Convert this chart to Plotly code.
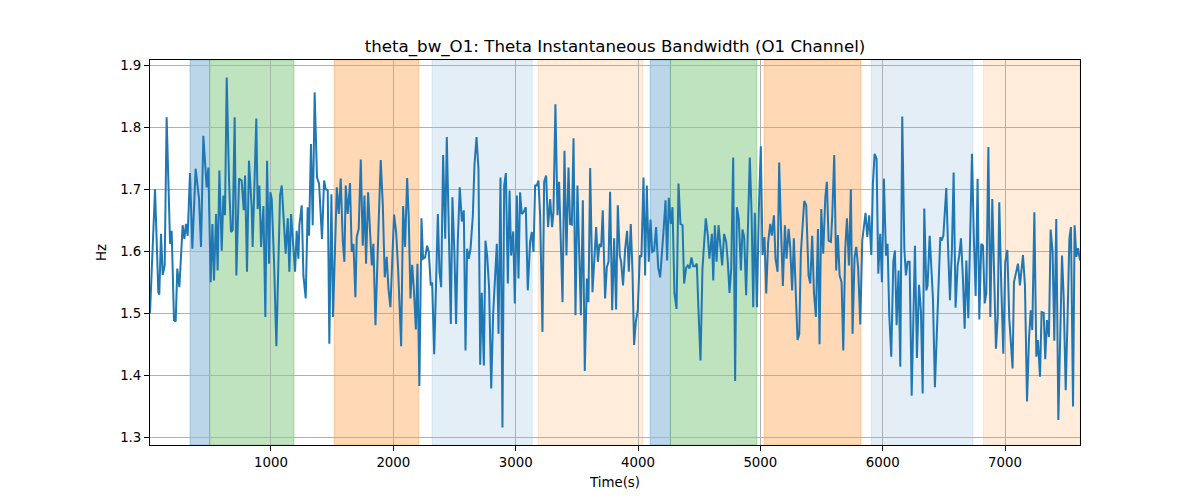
import plotly.graph_objects as go

# ---- data ----
times = [
    11, 52, 79, 87, 101, 115, 131, 147, 175, 188, 207, 221, 234, 251, 278, 292, 305, 319, 338, 357,
    384, 412, 428, 447, 474, 488, 507, 521, 534, 551, 564, 578, 597, 611, 624, 638, 657, 673, 687, 703, 717,
    739, 760, 777, 788, 804, 820, 842, 850, 864, 880, 891, 905, 919, 938, 954, 968, 984, 995, 1006, 1025,
    1044, 1060, 1074, 1088, 1104, 1120, 1137, 1150, 1164, 1180, 1197, 1210, 1224, 1232, 1251, 1265, 1284,
    1300, 1311, 1327, 1341, 1357, 1376, 1393, 1417, 1434, 1447, 1464, 1477, 1494, 1507,
    1538, 1554, 1570, 1587, 1600, 1611, 1627, 1646, 1660, 1674, 1690, 1701, 1717, 1734, 1750, 1764, 1777,
    1794, 1810, 1824, 1837, 1854, 1881, 1897, 1914, 1930, 1946, 1960, 1976, 2006, 2023, 2039, 2064, 2080,
    2096, 2113, 2126, 2140, 2154, 2167, 2184, 2197, 2213, 2230, 2243,
    2260, 2276, 2290, 2306, 2317, 2334, 2364, 2377, 2391, 2407, 2424, 2437, 2451, 2470, 2483, 2500, 2513,
    2527, 2543, 2560, 2576, 2590, 2603, 2617, 2631, 2650, 2663, 2680, 2696, 2710, 2723, 2740, 2753, 2767,
    2783, 2800, 2816, 2832, 2846, 2860, 2876, 2892, 2906, 2920, 2936, 2950, 2963, 2980, 2993, 3010, 3023,
    3036, 3050, 3064, 3083, 3099, 3118, 3132, 3146, 3159, 3173, 3186, 3200, 3219, 3233, 3249, 3265, 3282,
    3298, 3309, 3325, 3342, 3355, 3383, 3399, 3415, 3432, 3445, 3459, 3473, 3489, 3505, 3533, 3549, 3565,
    3582, 3595, 3609, 3628, 3642, 3658, 3672, 3685, 3699, 3712, 3731, 3745, 3759, 3772, 3789, 3805, 3821,
    3835, 3851, 3862, 3878, 3895, 3911, 3925, 3941, 3955, 3968, 3982, 3998, 4015, 4028, 4045, 4058, 4072,
    4088, 4102, 4116, 4132, 4148, 4165, 4181, 4195, 4208, 4225, 4238, 4252, 4268, 4282, 4298, 4315, 4331,
    4347, 4364, 4377, 4394, 4407, 4421, 4437, 4451, 4467, 4481, 4494, 4511, 4527, 4554, 4571, 4584,
    4604, 4615, 4628, 4642, 4658, 4672, 4688, 4704, 4721, 4734, 4748, 4762, 4778, 4794, 4808, 4824, 4841,
    4854, 4868, 4884, 4901, 4914, 4928, 4942, 4955, 4972, 4988, 5004, 5018, 5034, 5048, 5064, 5081, 5094,
    5111, 5124, 5141, 5154, 5168, 5184, 5201, 5214, 5231, 5244, 5260, 5274, 5290, 5304, 5318, 5331, 5345,
    5359, 5375,
    5394, 5408, 5424, 5438, 5454, 5471, 5484, 5498, 5514, 5531, 5544, 5558, 5577, 5588, 5604, 5620, 5634,
    5648, 5664, 5678, 5694, 5708, 5724, 5740, 5754, 5770, 5784, 5800, 5817, 5833, 5847, 5860, 5874, 5890,
    5907, 5920, 5934, 5950, 5964, 5980, 5994, 6010, 6027, 6040, 6054, 6070, 6087, 6100, 6114, 6130,
    6144, 6160, 6177, 6190, 6204, 6220, 6237, 6264, 6280, 6297, 6313, 6327, 6340, 6357, 6367, 6384, 6411,
    6427, 6471, 6482, 6496, 6520, 6534, 6550, 6566, 6580, 6596, 6613, 6626, 6640, 6656, 6670, 6684, 6700,
    6716, 6730, 6746, 6760, 6776, 6790, 6806, 6820, 6834, 6847, 6864, 6880, 6896, 6913, 6926, 6940,
    6953, 6970, 6986, 7002, 7019, 7035, 7049, 7062, 7073, 7090, 7106, 7122, 7133, 7147, 7163, 7180, 7196,
    7210, 7223, 7240, 7256, 7269, 7286, 7299, 7316, 7329, 7343, 7359, 7373, 7389, 7403, 7419, 7436, 7452,
    7466, 7479, 7496, 7512, 7526, 7539, 7556, 7569, 7583, 7597, 7613,
]

bandwidth_hz = [
    1.50, 1.70, 1.534, 1.530, 1.628, 1.562, 1.577, 1.816, 1.612, 1.633, 1.489, 1.487, 1.572, 1.542, 1.642,
    1.620, 1.644, 1.625, 1.726, 1.604, 1.733, 1.684, 1.607, 1.786, 1.703, 1.735, 1.550, 1.644, 1.553, 1.660,
    1.569, 1.730, 1.601, 1.690, 1.658, 1.880, 1.714, 1.631, 1.634, 1.816, 1.561,
    1.717, 1.714, 1.666, 1.722, 1.567, 1.746, 1.671, 1.607, 1.714, 1.814, 1.668, 1.706, 1.607, 1.673, 1.494,
    1.746, 1.580, 1.695, 1.684, 1.583, 1.447, 1.599, 1.690, 1.706, 1.647, 1.596, 1.653, 1.567, 1.660, 1.614,
    1.567, 1.633, 1.588, 1.642, 1.674, 1.561, 1.524, 1.671, 1.625, 1.773, 1.642, 1.856, 1.719, 1.709, 1.620,
    1.714, 1.700, 1.698, 1.451, 1.692, 1.494,
    1.703, 1.660, 1.717, 1.615, 1.583, 1.706, 1.660, 1.710, 1.599, 1.612, 1.526, 1.623, 1.636, 1.748, 1.609,
    1.690, 1.580, 1.695, 1.631, 1.577, 1.612, 1.481, 1.652, 1.747, 1.674, 1.558, 1.591, 1.540, 1.510, 1.659,
    1.631, 1.572, 1.447, 1.673, 1.607, 1.718, 1.655, 1.524, 1.578, 1.542, 1.474, 1.580, 1.383, 1.653, 1.588,
    1.590, 1.609, 1.599, 1.545, 1.550, 1.434, 1.660, 1.567, 1.542, 1.755, 1.620, 1.784, 1.671, 1.483, 1.687,
    1.593, 1.483, 1.617, 1.703, 1.648, 1.666, 1.440, 1.604, 1.588, 1.604, 1.658, 1.738, 1.784, 1.733, 1.417,
    1.533, 1.416, 1.617, 1.593, 1.540, 1.379, 1.499, 1.574, 1.612, 1.467, 1.719, 1.316, 1.706, 1.726, 1.548,
    1.698, 1.593, 1.632, 1.516, 1.690, 1.556,
    1.695, 1.660, 1.663, 1.671, 1.537, 1.615, 1.631, 1.599, 1.706, 1.706, 1.714, 1.658, 1.470, 1.712, 1.722,
    1.639, 1.684, 1.639, 1.663, 1.837, 1.658, 1.712, 1.518, 1.762, 1.593, 1.735, 1.644, 1.643, 1.782, 1.497,
    1.706, 1.497, 1.682, 1.407, 1.556, 1.518, 1.734, 1.534, 1.583, 1.639, 1.583, 1.612, 1.607, 1.666, 1.524,
    1.574, 1.583, 1.696, 1.505, 1.621, 1.506,
    1.674, 1.593, 1.583, 1.545, 1.604, 1.633, 1.567, 1.644, 1.567, 1.449, 1.486, 1.505, 1.593, 1.591, 1.719,
    1.561, 1.706, 1.583, 1.651, 1.599, 1.601, 1.639, 1.574, 1.558, 1.591, 1.631, 1.682, 1.585, 1.686, 1.644,
    1.671, 1.532, 1.507, 1.709, 1.644, 1.642, 1.548, 1.574, 1.577, 1.572, 1.590, 1.576, 1.576, 1.580, 1.507,
    1.424, 1.572, 1.653, 1.625, 1.588,
    1.628, 1.553, 1.642, 1.583, 1.642, 1.604, 1.577, 1.628, 1.615, 1.583, 1.533, 1.572, 1.751, 1.391, 1.671,
    1.652, 1.569, 1.635, 1.623, 1.529, 1.663, 1.751, 1.663, 1.510, 1.662, 1.510, 1.668, 1.769, 1.594, 1.623,
    1.532, 1.615, 1.644, 1.625, 1.658, 1.588, 1.567, 1.743, 1.642, 1.544, 1.642, 1.588, 1.636, 1.607, 1.537,
    1.621, 1.532, 1.457, 1.466, 1.596, 1.639, 1.681, 1.674,
    1.561, 1.548, 1.625, 1.534, 1.494, 1.636, 1.450, 1.668, 1.596, 1.687, 1.712, 1.617, 1.615, 1.658, 1.755,
    1.569, 1.626, 1.561, 1.550, 1.440, 1.604, 1.653, 1.577, 1.700, 1.467, 1.590, 1.607, 1.572, 1.482, 1.617,
    1.636, 1.662, 1.623, 1.658, 1.594, 1.709, 1.757, 1.749, 1.564, 1.628, 1.550, 1.717, 1.593, 1.612, 1.497,
    1.430, 1.583, 1.601, 1.481, 1.569,
    1.414, 1.817, 1.604, 1.561, 1.583, 1.583, 1.367, 1.609, 1.428, 1.546, 1.502, 1.371, 1.669, 1.537, 1.545,
    1.625, 1.524, 1.381, 1.623, 1.617, 1.625, 1.702, 1.609, 1.521, 1.603, 1.727, 1.509, 1.577, 1.593, 1.621,
    1.557, 1.475, 1.585, 1.492, 1.631, 1.757, 1.617, 1.528, 1.717, 1.490, 1.612, 1.609, 1.516, 1.532, 1.768,
    1.494, 1.684, 1.544, 1.443, 1.492,
    1.679, 1.540, 1.435, 1.583, 1.602, 1.491, 1.443, 1.411, 1.550, 1.567, 1.580, 1.545, 1.564, 1.594, 1.545,
    1.358, 1.459, 1.505, 1.473, 1.663, 1.430, 1.457, 1.398, 1.502, 1.501, 1.426, 1.489, 1.462, 1.635, 1.599,
    1.456, 1.652, 1.328, 1.494, 1.593, 1.529, 1.376, 1.497, 1.620, 1.639, 1.350, 1.642, 1.591, 1.605, 1.585,
]

# shaded segments: start, end, base colour, alpha
span_starts = [338, 499, 1516, 2317, 3184, 4099, 4265, 5032, 5907, 6823]
span_ends = [499, 1188, 2208, 3135, 4039, 4265, 4972, 5822, 6738, 7613]
span_colors = ["31,119,180", "44,160,44", "255,127,14", "31,119,180", "255,127,14",
               "31,119,180", "44,160,44", "255,127,14", "31,119,180", "255,127,14"]
span_alphas = [0.3, 0.3, 0.3, 0.12, 0.15, 0.3, 0.3, 0.3, 0.12, 0.15]

x_ticks = [1000, 2000, 3000, 4000, 5000, 6000, 7000]
y_ticks = [1.3, 1.4, 1.5, 1.6, 1.7, 1.8, 1.9]

FONT = "DejaVu Sans"

fig = go.Figure()
fig.add_trace(go.Scatter(x=times, y=bandwidth_hz, mode="lines",
                         line=dict(color="#1f77b4", width=2), showlegend=False))

for s, e, c, a in zip(span_starts, span_ends, span_colors, span_alphas):
    fig.add_shape(type="rect", xref="x", yref="paper", x0=s, x1=e, y0=0, y1=1,
                  fillcolor=f"rgba({c},{a})", line=dict(color=f"rgba({c},{a})", width=1),
                  layer="below")

ymin, ymax = min(bandwidth_hz), max(bandwidth_hz)
pad = 0.05 * (ymax - ymin)

axis_common = dict(showline=True, linecolor="black", linewidth=1, mirror=True,
                   ticks="outside", ticklen=5, tickwidth=1, tickcolor="black",
                   showgrid=True, gridcolor="#b0b0b0", gridwidth=1, zeroline=False,
                   tickfont=dict(family=FONT, size=13.33, color="black"))

fig.update_layout(
    width=1200, height=500,
    margin=dict(l=150, r=120, t=60, b=55),
    paper_bgcolor="white", plot_bgcolor="white",
    font=dict(family=FONT, color="black"),
    title=dict(text="theta_bw_O1: Theta Instantaneous Bandwidth (O1 Channel)",
               font=dict(family=FONT, size=16.67, color="black"),
               x=0.5125, xanchor="center", xref="container",
               y=1 - 46 / 500, yanchor="middle", yref="container"),
    xaxis=dict(range=[times[0], times[-1]], tickvals=x_ticks,
               title=dict(text="Time(s)", font=dict(family=FONT, size=13.33), standoff=8),
               **axis_common),
    yaxis=dict(range=[ymin - pad, ymax + pad], tickvals=y_ticks, tickformat=".1f",
               title=dict(text="Hz", font=dict(family=FONT, size=13.33), standoff=10),
               **axis_common),
)

fig.write_html("out.html")
